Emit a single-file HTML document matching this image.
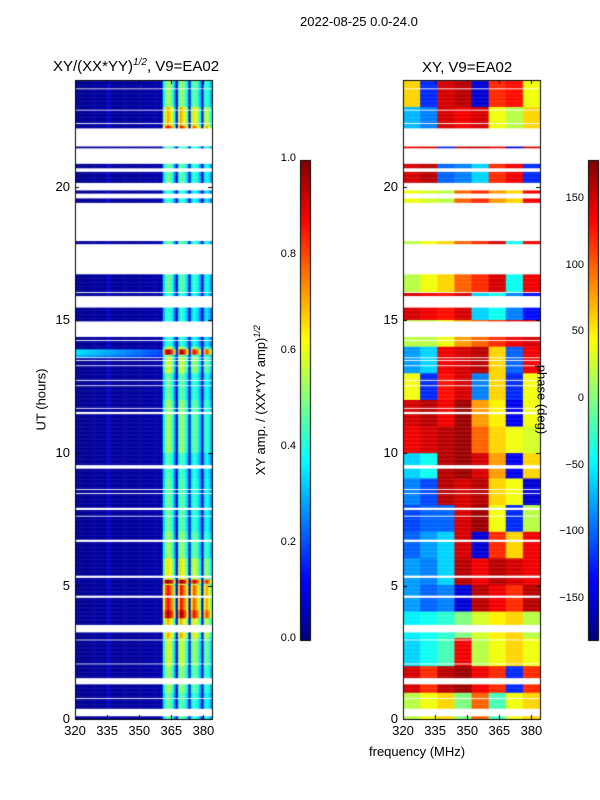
<!DOCTYPE html>
<html><head><meta charset="utf-8">
<style>
body{margin:0;background:#fff;width:600px;height:800px;overflow:hidden;position:relative;font-family:"Liberation Sans",sans-serif;color:#000}
.t{position:absolute;white-space:nowrap}
canvas{position:absolute}
</style></head><body>
<div class="t" style="left:300px;top:14px;font-size:13px">2022-08-25 0.0-24.0</div>
<div class="t" style="left:53px;top:57px;font-size:15px">XY/(XX*YY)<sup style="font-size:10px;font-style:italic">1/2</sup>, V9=EA02</div>
<div class="t" style="left:422px;top:59px;font-size:15px">XY, V9=EA02</div>
<div class="t" style="left:369px;top:744px;font-size:13px">frequency (MHz)</div>
<div class="t" style="left:1px;top:392px;font-size:13px;transform:rotate(-90deg);width:80px;text-align:center">UT (hours)</div>
<div class="t" style="left:160px;top:392px;font-size:13px;transform:rotate(-90deg);width:200px;text-align:center">XY amp. / (XX*YY amp)<sup style="font-size:9px;font-style:italic">1/2</sup></div>
<canvas id="c" width="600" height="800" style="left:0;top:0"></canvas>
<div class="t" style="left:492px;top:392px;font-size:13px;transform:rotate(90deg);width:100px;text-align:center">phase (deg)</div>
<div id="labels"></div>
<script>
// time gaps (hours) with no data
const gaps=[[0.08,0.38],[0.75,0.79],[1.32,1.57],[2.05,2.09],[2.38,2.42],[2.95,2.99],[3.25,3.55],[3.63,3.67],[4.13,4.17],[4.55,4.65],[5.28,5.4],[6.08,6.12],[6.65,6.75],[7.6,7.64],[7.85,7.95],[8.03,8.07],[8.45,8.5],[8.6,8.64],[9.4,9.55],[9.73,9.77],[11.13,11.17],[11.45,11.55],[11.66,11.7],[12.48,12.55],[12.68,12.75],[13.23,13.3],[13.43,13.5],[13.53,13.58],[13.93,13.97],[14.18,14.24],[14.35,14.95],[15.18,15.22],[15.33,15.37],[15.45,15.9],[15.98,16.03],[16.18,16.22],[16.38,16.42],[16.7,17.85],[17.95,19.4],[19.55,19.75],[19.85,20.15],[20.18,20.22],[20.55,20.7],[20.85,21.45],[21.5,22.2],[22.36,22.4],[22.48,22.52],[22.83,22.88],[23.18,23.22],[23.53,23.57],[23.65,23.7]];
// amplitude baseline per 1-MHz channel (320..383)
const ampBase=[0.02,0.02,0.02,0.02,0.02,0.02,0.02,0.03,0.03,0.03,0.03,0.03,0.03,0.03,0.03,0.1,0.03,0.03,0.03,0.03,0.03,0.03,0.03,0.03,0.03,0.03,0.03,0.03,0.03,0.03,0.03,0.03,0.04,0.04,0.04,0.04,0.04,0.04,0.04,0.04,0.05,0.38,0.5,0.55,0.5,0.45,0.3,0.06,0.42,0.55,0.5,0.45,0.35,0.06,0.4,0.5,0.45,0.4,0.3,0.06,0.38,0.45,0.4,0.3];
// hourly gain on amplitude (0..23)
const ampGain=[0.9,1.0,1.1,1.3,1.6,1.2,1.0,0.9,0.9,0.85,1.0,1.0,0.9,1.1,0.8,0.8,0.9,0.9,0.9,0.8,0.9,0.9,1.3,1.0];
// special bright events [t0,t1,gain,background]
const ampEvents=[[13.7,13.9,1.8,0.35],[13.6,13.68,1.0,0.3],[5.1,5.27,1.9,0.03],[3.8,4.1,1.8,0.03],[22.05,22.3,1.6,0.03]];
// phase (deg) per hour (0..23) per 8-MHz group
const phase=[
[20,40,60,0,100,-20,40,60],[150,120,160,170,140,120,-120,120],[-60,-40,-20,140,20,40,60,40],[-50,-40,-30,0,30,50,60,20],
[-80,-100,-90,-150,160,140,120,160],[-80,-90,-60,160,140,160,150,140],[-100,-80,-60,150,-150,120,60,140],[-110,-100,-100,150,170,40,-120,20],
[-90,-110,160,150,160,60,40,-150],[-60,-40,160,170,150,80,-140,60],[140,150,160,170,100,60,40,30],[150,160,140,170,80,50,-140,40],
[40,-120,130,150,-90,60,-120,40],[-80,-60,140,150,160,60,-100,140],[20,20,40,80,100,120,140,150],[150,140,130,150,-60,-40,-90,-130],
[20,40,60,100,120,150,-40,140],[20,40,60,100,120,150,-40,140],[140,-150,160,150,0,-40,-130,150],[40,30,20,100,120,80,60,140],
[150,160,-100,-90,-60,120,140,-120],[140,150,-120,160,160,140,-150,150],[-70,-90,150,140,150,40,20,60],[60,-120,150,160,-150,120,130,40]];
const ampTicks=[0,0.2,0.4,0.6,0.8,1.0];
const phTicks=[-150,-100,-50,0,50,100,150];
const xTicks=[320,335,350,365,380];
const yTicks=[0,5,10,15,20];

const P1={x0:75,x1:212},P2={x0:403,x1:540},Y0=719,Y1=80;
const fx=(p,f)=>p.x0+(f-320)/64*(p.x1-p.x0);
const ty=t=>Y0-t/24*(Y0-Y1);
function jet(v){v=Math.max(0,Math.min(1,v));const c=x=>Math.round(255*Math.max(0,Math.min(1,1.5-Math.abs(4*v-x))));return`rgb(${c(3)},${c(2)},${c(1)})`;}
const inGap=t=>gaps.some(g=>t>=g[0]&&t<g[1]);
const ctx=document.getElementById('c').getContext('2d');
const dt=0.05;
for(let t=0;t<24;t+=dt){
  if(inGap(t+dt/2))continue;
  const h=Math.floor(t);const ya=ty(t+dt),yb=ty(t);
  const ev=ampEvents.find(e=>t+dt/2>=e[0]&&t+dt/2<e[1]);
  for(let i=0;i<64;i++){
    let v=ampBase[i];
    if(v>0.2)v=v*(ev?ev[2]:ampGain[h]);else if(ev)v=Math.max(v,ev[3]*(1-i/90));
    ctx.fillStyle=jet(v);
    ctx.fillRect(fx(P1,320+i),ya,fx(P1,321+i)-fx(P1,320+i)+0.5,yb-ya+0.4);
  }
  for(let g=0;g<8;g++){
    ctx.fillStyle=jet((phase[h][g]+180)/360);
    ctx.fillRect(fx(P2,320+8*g),ya,fx(P2,328+8*g)-fx(P2,320+8*g)+0.5,yb-ya+0.4);
  }
}
// colorbars
function cbar(x){for(let y=160;y<640;y++){ctx.fillStyle=jet((640-y)/480);ctx.fillRect(x,y,10,1);}ctx.strokeStyle='#000';ctx.lineWidth=1;ctx.strokeRect(x+0.5,160.5,10,480);}
cbar(300);cbar(588);
ctx.strokeStyle='#000';ctx.lineWidth=1;
[P1,P2].forEach(p=>{ctx.strokeRect(p.x0+0.5,Y1+0.5,p.x1-p.x0,Y0-Y1);
  ctx.beginPath();
  xTicks.forEach(f=>{const x=Math.round(fx(p,f))+0.5;ctx.moveTo(x,Y0);ctx.lineTo(x,Y0-4);ctx.moveTo(x,Y1);ctx.lineTo(x,Y1+4);});
  yTicks.forEach(t=>{const y=Math.round(ty(t))+0.5;ctx.moveTo(p.x0,y);ctx.lineTo(p.x0+4,y);ctx.moveTo(p.x1,y);ctx.lineTo(p.x1-4,y);});
  ctx.stroke();});
const L=document.getElementById('labels');
function lab(txt,x,y,name,align){const d=document.createElement('div');d.className='t';d.textContent=txt;
  
  
  d.style.fontSize=name.includes('cbar')?'11px':'13px';
  d.style.top=(y-8)+'px';
  if(align==='r'){d.style.right=(600-x)+'px';}else{d.style.left=x+'px';d.style.transform='translateX(-50%)';}
  L.appendChild(d);}
[P1,P2].forEach(p=>{xTicks.forEach(f=>lab(String(f),fx(p,f),731,'x-tick-label','c'));
  yTicks.forEach(t=>lab(String(t),p.x0-5,ty(t),'y-tick-label','r'));});
ampTicks.forEach(v=>lab(v.toFixed(1),296,640-v*480,'amp-cbar-tick-label','r'));
phTicks.forEach(v=>lab(String(v).replace('-','\u2212'),584,400-v/180*240,'phase-cbar-tick-label','r'));
</script>
</body></html>
